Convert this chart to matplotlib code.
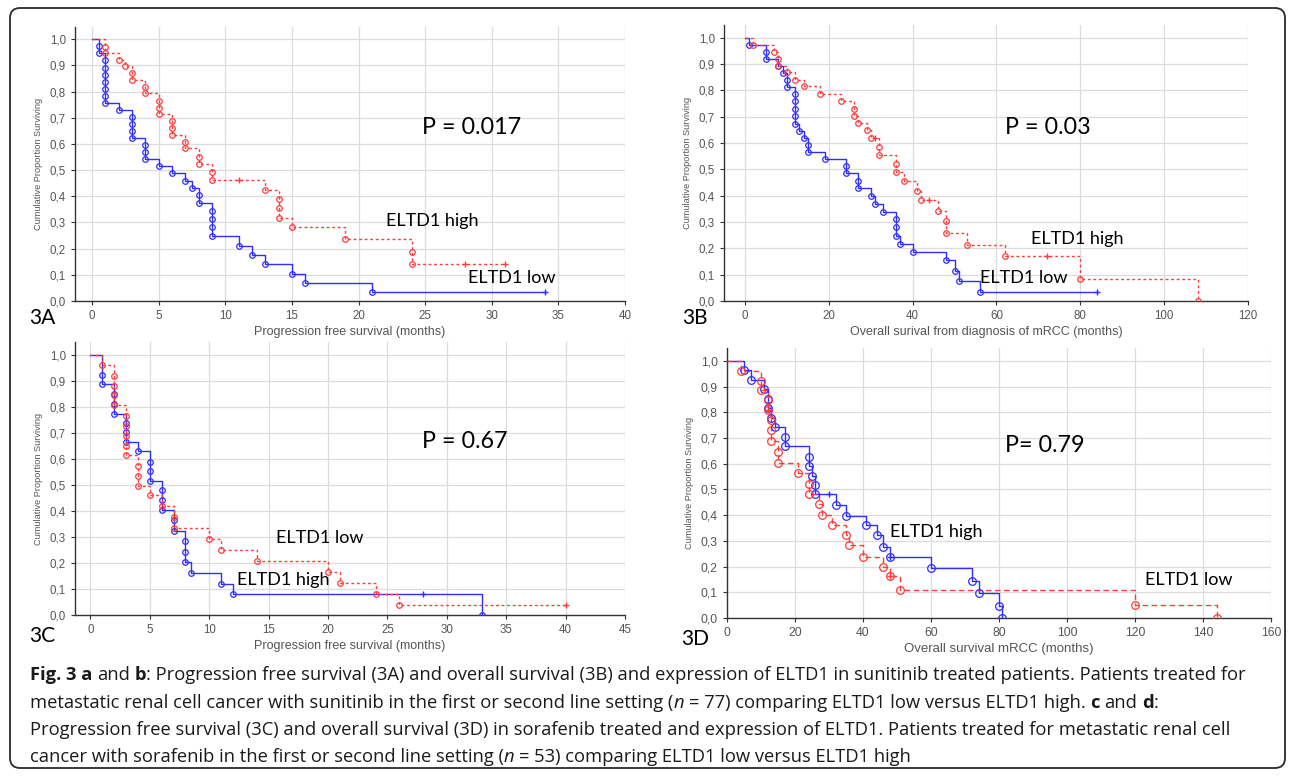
import numpy as np
import matplotlib
matplotlib.use("Agg")
import matplotlib.pyplot as plt
from matplotlib.patches import FancyBboxPatch
from matplotlib.ticker import FuncFormatter, MultipleLocator

plt.rcParams['font.family'] = ['Liberation Sans', 'DejaVu Sans']

# ---- data: event times / survival after each event / censored times
# 3A  sunitinib PFS
a_blue_t = [0.5, 0.5, 1, 1, 1, 1, 1, 1, 1, 2, 3, 3, 3, 3, 4, 4, 4, 5, 6, 7, 7.5, 8, 8,
            9, 9, 9, 9, 11, 12, 13, 15, 16, 21]
a_blue_s = [0.973, 0.946, 0.919, 0.892, 0.865, 0.838, 0.811, 0.784, 0.757, 0.730, 0.703,
            0.676, 0.649, 0.622, 0.595, 0.568, 0.541, 0.515, 0.488, 0.460, 0.433, 0.405,
            0.375, 0.342, 0.312, 0.281, 0.248, 0.212, 0.177, 0.141, 0.105, 0.070, 0.035]
a_blue_c = [34]
a_red_t = [1, 1, 2, 2.5, 3, 3, 4, 4, 5, 5, 5, 6, 6, 6, 7, 7, 8, 8, 9, 9, 13, 14, 14, 14,
           15, 19, 24, 24]
a_red_s = [0.972, 0.947, 0.920, 0.897, 0.870, 0.845, 0.817, 0.794, 0.766, 0.739, 0.715,
           0.687, 0.660, 0.634, 0.607, 0.583, 0.552, 0.524, 0.492, 0.462, 0.425, 0.389,
           0.354, 0.319, 0.284, 0.237, 0.187, 0.141]
a_red_c = [11, 28, 31]

# 3B  sunitinib OS
b_blue_t = [1, 5, 5, 8, 9, 10, 10, 12, 12, 12, 12, 12, 13, 14, 15, 15, 19, 24, 24, 27, 27,
            30, 31, 33, 36, 36, 36, 37, 40, 48, 50, 51, 56]
b_blue_s = [0.971, 0.944, 0.918, 0.892, 0.867, 0.839, 0.811, 0.785, 0.758, 0.730, 0.704,
            0.673, 0.647, 0.619, 0.592, 0.566, 0.539, 0.513, 0.485, 0.456, 0.428, 0.399,
            0.370, 0.339, 0.311, 0.280, 0.247, 0.215, 0.185, 0.156, 0.115, 0.075, 0.035]
b_blue_c = [84]
b_red_t = [2, 7, 8, 8, 10, 12, 14, 18, 23, 26, 26, 27, 29, 30, 32, 32, 36, 36, 38, 41, 42,
           46, 48, 48, 53, 62, 80, 108]
b_red_s = [0.971, 0.947, 0.919, 0.894, 0.868, 0.841, 0.816, 0.787, 0.761, 0.730, 0.704,
           0.675, 0.648, 0.619, 0.586, 0.554, 0.519, 0.489, 0.454, 0.416, 0.382, 0.343,
           0.303, 0.257, 0.213, 0.171, 0.084, 0.0]
b_red_c = [31, 44, 72]

# 3C  sorafenib PFS
c_blue_t = [1, 1, 2, 2, 2, 3, 3, 3, 4, 5, 5, 5, 6, 6, 6, 7, 7, 8, 8, 8, 8.5, 11, 12, 33]
c_blue_s = [0.923, 0.887, 0.849, 0.813, 0.775, 0.739, 0.702, 0.665, 0.629, 0.588, 0.552,
            0.516, 0.479, 0.442, 0.404, 0.365, 0.325, 0.283, 0.243, 0.203, 0.160, 0.120,
            0.079, 0.0]
c_blue_c = [28]
c_red_t = [1, 2, 2, 2, 2, 3, 3, 3, 3, 3, 4, 4, 4, 5, 6, 7, 7, 10, 11, 14, 20, 21, 24, 26]
c_red_s = [0.960, 0.920, 0.882, 0.845, 0.806, 0.766, 0.728, 0.689, 0.650, 0.614, 0.573,
           0.534, 0.498, 0.460, 0.419, 0.377, 0.336, 0.292, 0.251, 0.208, 0.166, 0.124,
           0.082, 0.040]
c_red_c = [40]

# 3D  sorafenib OS
d_blue_t = [5, 7, 11, 12, 12, 13, 14, 17, 17, 24, 24, 25, 26, 26, 32, 35, 41, 44, 46, 48,
            60, 72, 74, 80, 81]
d_blue_s = [0.963, 0.926, 0.889, 0.852, 0.815, 0.778, 0.741, 0.704, 0.667, 0.627, 0.591,
            0.554, 0.517, 0.481, 0.439, 0.398, 0.360, 0.321, 0.278, 0.239, 0.193, 0.142,
            0.096, 0.045, 0.0]
d_blue_c = [30, 48]
d_red_t = [4, 10, 10, 12, 12, 13, 13, 13, 15, 15, 21, 24, 24, 27, 28, 31, 35, 36, 40, 46,
           48, 51, 120, 144]
d_red_s = [0.960, 0.921, 0.885, 0.846, 0.808, 0.769, 0.731, 0.690, 0.646, 0.604, 0.565,
           0.523, 0.483, 0.444, 0.402, 0.362, 0.321, 0.282, 0.239, 0.200, 0.162, 0.107,
           0.050, 0.0]
d_red_c = [12, 48]

W, H = 1292, 776
BLUE = '#2e2eff'
RED = '#ff3b3b'

fig = plt.figure(figsize=(W / 100, H / 100), dpi=100)

# background with the rounded frame
bg = fig.add_axes([0, 0, 1, 1], zorder=-5)
bg.set_xlim(0, W)
bg.set_ylim(H, 0)
bg.axis('off')
bg.add_patch(FancyBboxPatch((10, 8), 1275, 760, boxstyle='round,pad=0,rounding_size=10',
                            facecolor='white', edgecolor='#2a2a2a', lw=1.3))


def make_ax(l, t, r, b):
    return fig.add_axes([l / W, 1 - b / H, (r - l) / W, (b - t) / H])


def km(ax, t, s, c, color, ls, ms):
    x = [0] + list(t)
    y = [1.0] + list(s)
    if c and max(c) > t[-1]:
        x.append(max(c))
        y.append(s[-1])
    ax.step(x, y, where='post', color=color, lw=1.0, ls=ls, zorder=3)
    ax.plot(t, s, ls='none', marker='o', ms=ms, mfc='none', mec=color, mew=0.9, zorder=4)
    tt = np.array(t)
    cy = [s[np.searchsorted(tt, ci, side='right') - 1] for ci in c]
    ax.plot(c, cy, ls='none', marker='+', ms=5, mec=color, mew=1.0, zorder=4)


def style(ax, xlim, xstep, ymax, xlabel, tsize=8.3, lsize=9):
    ax.set_xlim(*xlim)
    ax.set_ylim(0, ymax)
    ax.xaxis.set_major_locator(MultipleLocator(xstep))
    ax.yaxis.set_major_locator(MultipleLocator(0.1))
    ax.yaxis.set_major_formatter(FuncFormatter(lambda v, p: f"{v:.1f}".replace('.', ',')))
    ax.grid(True, color='#dcdcdc', lw=0.9)
    ax.set_axisbelow(True)
    for sp in ['top', 'right']:
        ax.spines[sp].set_visible(False)
    for sp in ['left', 'bottom']:
        ax.spines[sp].set_color('#333333')
        ax.spines[sp].set_linewidth(1.0)
    ax.tick_params(labelsize=tsize, labelcolor='#555555', color='#333333', length=3, width=0.8)
    ax.set_xlabel(xlabel, fontsize=lsize, color='#555555', labelpad=3)
    ax.set_ylabel('Cumulative Proportion Surviving', fontsize=6.6, color='#555555', labelpad=5)


def note(ax, x, y, txt, size):
    ax.text(x, y, txt, fontsize=size, family='Lato', ha='center', va='center', color='black')


# 3A
ax = make_ax(75, 27, 625, 301)
style(ax, (-1.28, 40), 5, 1.047, 'Progression free survival (months)')
km(ax, a_blue_t, a_blue_s, a_blue_c, BLUE, '-', 4)
km(ax, a_red_t, a_red_s, a_red_c, RED, (0, (2, 2)), 4)
note(ax, 28.5, 0.663, 'P = 0.017', 16.8)
note(ax, 25.5, 0.305, 'ELTD1 high', 13)
note(ax, 31.5, 0.089, 'ELTD1 low', 13)

# 3B
ax = make_ax(724, 25, 1248, 301)
style(ax, (-5, 120), 20, 1.048, 'Overall surival from diagnosis of mRCC (months)')
km(ax, b_blue_t, b_blue_s, b_blue_c, BLUE, '-', 4)
km(ax, b_red_t, b_red_s, b_red_c, RED, (0, (2, 2)), 4)
note(ax, 72.3, 0.659, 'P = 0.03', 16.8)
note(ax, 79.3, 0.237, 'ELTD1 high', 13)
note(ax, 66.4, 0.089, 'ELTD1 low', 13)

# 3C
ax = make_ax(75, 342, 625, 615)
style(ax, (-1.3, 45), 5, 1.05, 'Progression free survival (months)')
km(ax, c_blue_t, c_blue_s, c_blue_c, BLUE, '-', 4)
km(ax, c_red_t, c_red_s, c_red_c, RED, (0, (2, 2)), 4)
note(ax, 31.5, 0.666, 'P = 0.67', 16.8)
note(ax, 19.3, 0.297, 'ELTD1 low', 13)
note(ax, 16.2, 0.134, 'ELTD1 high', 13)

# 3D
ax = make_ax(727, 348, 1271, 618)
style(ax, (0, 160), 20, 1.05, 'Overall survival mRCC (months)', tsize=8.8, lsize=9.5)
km(ax, d_blue_t, d_blue_s, d_blue_c, BLUE, '-', 5.5)
km(ax, d_red_t, d_red_s, d_red_c, RED, (0, (4, 2.5)), 5.5)
note(ax, 93.5, 0.669, 'P= 0.79', 16.8)
note(ax, 61.4, 0.336, 'ELTD1 high', 13)
note(ax, 135.8, 0.149, 'ELTD1 low', 13)

# panel tags
for tag, x, y in [('3A', 29, 318), ('3B', 682, 318), ('3C', 29, 636), ('3D', 681, 639)]:
    fig.text(x / W, 1 - y / H, tag, fontsize=15, family='Lato', ha='left', va='center')

# caption, drawn as runs so bold / italic parts sit inline
renderer = fig.canvas.get_renderer()
CAP = 13.2
caption = [
    [("Fig. 3 a", 'bold', 'normal'), (" and ", 'normal', 'normal'), ("b", 'bold', 'normal'),
     (": Progression free survival (3A) and overall survival (3B) and expression of ELTD1 in "
      "sunitinib treated patients. Patients treated for", 'normal', 'normal')],
    [("metastatic renal cell cancer with sunitinib in the first or second line setting (", 'normal', 'normal'),
     ("n", 'normal', 'italic'), (" = 77) comparing ELTD1 low versus ELTD1 high. ", 'normal', 'normal'),
     ("c", 'bold', 'normal'), (" and ", 'normal', 'normal'), ("d", 'bold', 'normal'),
     (":", 'normal', 'normal')],
    [("Progression free survival (3C) and overall survival (3D) in sorafenib treated and expression "
      "of ELTD1. Patients treated for metastatic renal cell", 'normal', 'normal')],
    [("cancer with sorafenib in the first or second line setting (", 'normal', 'normal'),
     ("n", 'normal', 'italic'), (" = 53) comparing ELTD1 low versus ELTD1 high", 'normal', 'normal')],
]
probe = fig.text(0, 0, "a a", fontsize=CAP, family='Open Sans')
w2 = probe.get_window_extent(renderer).width
probe.set_text("aa")
space = w2 - probe.get_window_extent(renderer).width
probe.remove()

for i, parts in enumerate(caption):
    x = 30
    y = 675 + 27.5 * i
    for txt, weight, fstyle in parts:
        if txt.startswith(' '):
            x += space
        t = fig.text(x / W, 1 - y / H, txt.strip(), fontsize=CAP, family='Open Sans',
                     weight=weight, style=fstyle, ha='left', va='center', color='#1a1a1a')
        x += t.get_window_extent(renderer).width
        if txt.endswith(' '):
            x += space

fig.savefig('out.png', dpi=100)
